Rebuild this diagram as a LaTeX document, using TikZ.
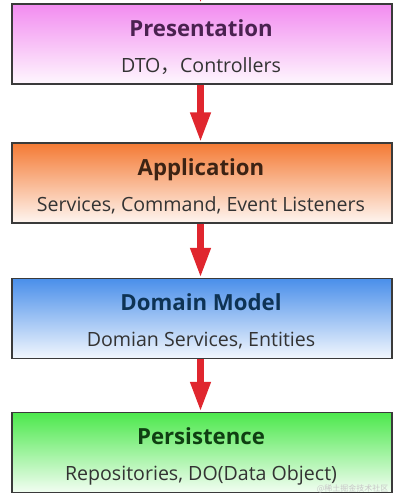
\documentclass[tikz,border=0pt]{standalone}
\usepackage{fontspec}
\setmainfont{Open Sans}
\newfontfamily\cjk{Noto Sans CJK SC}
\usetikzlibrary{arrows.meta}
\definecolor{cmag}{HTML}{F28CF0}
\definecolor{corg}{HTML}{F47A34}
\definecolor{cblu}{HTML}{4A8FEA}
\definecolor{cgrn}{HTML}{4CE84C}
\definecolor{tmag}{HTML}{4A2250}
\definecolor{torg}{HTML}{3C2314}
\definecolor{tblu}{HTML}{0E3354}
\definecolor{tgrn}{HTML}{0F3F12}
\definecolor{border}{HTML}{3A3A3A}
\definecolor{arrowred}{HTML}{E0262E}
\tikzset{
  layer/.style={draw=border, line width=1.4pt, minimum width=380pt, minimum height=80pt,
    inner sep=0pt, shading=axis, shading angle=0,
    top color=#1, middle color=#1!72!white, bottom color=#1!7!white},
  title/.style={anchor=base, font=\fontsize{22.2}{25}\selectfont\bfseries},
  sub/.style={anchor=base, font=\fontsize{19.6}{22}\selectfont, text=black!80},
  redarrow/.style={draw=arrowred, line width=7pt,
    -{Triangle[width=19pt,length=30pt]}, arrowred},
  wm/.style={anchor=base east, font=\cjk\fontsize{8}{9}\selectfont, text=black!22}
}
\begin{document}
\begin{tikzpicture}[x=1pt,y=-1pt]
\useasboundingbox (0,0) rectangle (401,498);
\clip (0,0) rectangle (401,498);
\fill[white] (0,0) rectangle (401,498);
% boxes
\node[layer=cmag] (p) at (202,44) {};
\node[layer=corg] (a) at (202,183) {};
\node[layer=cblu] (d) at (202,318.5) {};
\node[layer=cgrn] (s) at (202,452.5) {};
% texts
\node[title, text=tmag] (pt) at (201,36) {Presentation};
\node[sub] (ps) at (201,72) {DTO{\cjk ，}Controllers};
\node[title, text=torg] (at) at (201,175) {Application};
\node[sub] (as) at (201,211) {Services, Command, Event Listeners};
\node[title, text=tblu] (dt) at (201,310.5) {Domain Model};
\node[sub] (ds) at (201,346.5) {Domian Services, Entities};
\node[title, text=tgrn] (st) at (201,444.5) {Persistence};
\node[sub] (ss) at (201,480.5) {Repositories, DO(Data Object)};
% arrows
\coordinate (top) at (200.5,-60);
\draw[redarrow] (top) -- (p.north -| 200.5,0);
\draw[redarrow] (p.south -| 200.5,0) -- (a.north -| 200.5,0);
\draw[redarrow] (a.south -| 200.5,0) -- (d.north -| 200.5,0);
\draw[redarrow] (d.south -| 200.5,0) -- (s.north -| 200.5,0);
% watermark
\node[wm] (w) at (392,491) {@稀土掘金技术社区};
\end{tikzpicture}
\end{document}
